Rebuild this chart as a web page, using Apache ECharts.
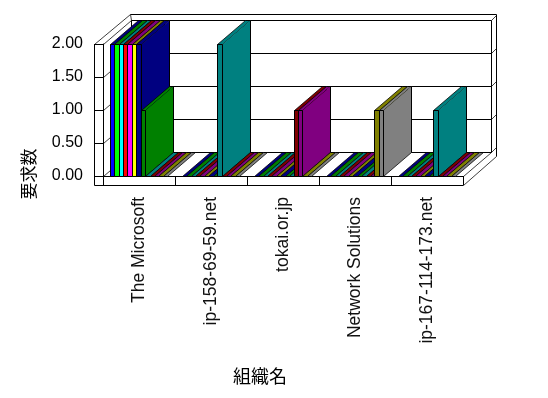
<!DOCTYPE html>
<html><head><meta charset="utf-8">
<style>html,body{margin:0;padding:0;background:#fff}#c{width:548px;height:398px}</style>
<script src="https://cdn.jsdelivr.net/npm/echarts@6/dist/echarts.min.js"></script>
</head><body><div id="c"></div>
<script>
const categories = ['The Microsoft','ip-158-69-59.net','tokai.or.jp','Network Solutions','ip-167-114-173.net'];
const yTicks = [0, 0.5, 1, 1.5, 2];
const s01 = [2,0,0,0,0];
const s02 = [2,0,0,0,0];
const s03 = [2,0,0,0,0];
const s04 = [2,0,0,0,0];
const s05 = [2,0,0,0,0];
const s06 = [2,0,0,0,0];
const s07 = [2,0,0,0,0];
const s08 = [1,0,0,0,0];
const s09 = [0,2,0,0,1];
const s10 = [0,0,1,0,0];
const s11 = [0,0,1,0,0];
const s12 = [0,0,0,1,0];
const s13 = [0,0,0,1,0];
const seriesValues = [s01,s02,s03,s04,s05,s06,s07,s08,s09,s10,s11,s12,s13];
const frontColors = ['#0000ff','#00ff00','#00ffff','#ff0000','#ff00ff','#ffff00','#000080','#008000','#008080','#800000','#800080','#808000','#808080'];
const darkColors  = ['#000080','#008000','#008080','#800000','#800080','#808000','#000080','#008000','#008080','#800000','#800080','#808000','#808080'];

const DX = 28, DY = 24, BAND = 0.8, SLAB_X = 5, SLAB_Y = 6, TK = 9;
const THIN = 0.75;
const black = '#000';
const snap = v => Math.floor(v) + 0.5;
const chart = echarts.init(document.getElementById('c'), null, {renderer:'canvas', devicePixelRatio:1});

const seg = (x1,y1,x2,y2,w)=>({type:'line',shape:{x1,y1,x2,y2},style:{stroke:black,lineWidth:w||1}});
const fillPoly = (points,fill)=>({type:'polygon',shape:{points},style:{fill,stroke:null}});

function renderBar(i){
  return function(params, api){
    const cat = api.value(0), val = api.value(1);
    const bw = api.size([1,0])[0];
    const w = bw*BAND/seriesValues.length;
    const c0 = api.coord([cat,0]);
    const cv = api.coord([cat,val]);
    const x0 = snap(c0[0]-bw*BAND/2+i*w), x1 = snap(c0[0]-bw*BAND/2+(i+1)*w);
    const yb = snap(c0[1]), yt = snap(cv[1]);
    const c = [];
    c.push(fillPoly([[x0,yt],[x1,yt],[x1+DX,yt-DY],[x0+DX,yt-DY]], darkColors[i]));
    c.push(seg(x0,yt,x0+DX,yt-DY,THIN), seg(x1,yt,x1+DX,yt-DY,THIN));
    c.push(seg(x0+DX,yt-DY,x1+DX,yt-DY), seg(x0,yt,x1,yt));
    if(val>0){
      c.push(fillPoly([[x1,yt],[x1+DX,yt-DY],[x1+DX,yb-DY],[x1,yb]], darkColors[i]));
      c.push(seg(x1+DX,yt-DY,x1+DX,yb-DY), seg(x1,yb,x1+DX,yb-DY,THIN));
      c.push({type:'rect', shape:{x:x0,y:yt,width:x1-x0,height:yb-yt}, style:{fill:frontColors[i],stroke:black,lineWidth:1}});
    }
    return {type:'group', children:c};
  };
}
function renderFrame(params, api){
  const a = api.coord([0,0]), bw = api.size([1,0])[0];
  const L = snap(a[0]-bw/2), R = snap(a[0]-bw/2+bw*categories.length), B = snap(a[1]);
  const T = snap(api.coord([0,yTicks[yTicks.length-1]])[1]);
  const c = [];
  yTicks.forEach(t=>{
    const y = snap(api.coord([0,t])[1]);
    c.push(seg(L+DX, y-DY, R+DX, y-DY));
    c.push(seg(L, y, L+DX, y-DY, THIN));
    c.push(seg(R+DX, y-DY, R+DX+SLAB_X, y-DY-SLAB_X, THIN));
  });
  c.push(seg(L+DX, T-DY, L+DX, B-DY));
  c.push(seg(R+DX, T-DY, R+DX, B-DY));
  c.push(seg(L, B, L, T));
  c.push(seg(R, B, R+DX, B-DY, THIN));
  c.push(seg(L-TK, T, L, T));
  c.push(seg(L-TK, T, L+DX-1, T-DY-SLAB_Y, THIN));
  c.push(seg(L+DX-1, T-DY-SLAB_Y, R+DX+SLAB_X, T-DY-SLAB_Y));
  c.push(seg(L+DX-1, T-DY-SLAB_Y, L+DX, T-DY, THIN));
  c.push(seg(R+DX+SLAB_X, T-DY-SLAB_Y, R+DX+SLAB_X, B-DY+4));
  c.push(seg(R+DX+SLAB_X, B-DY+4, R, B+TK, THIN));
  c.push(seg(L-TK, T, L-TK, B+TK));
  c.push(seg(L-TK, B+TK, R, B+TK));
  return {type:'group', children:c};
}

const series = [{type:'custom', z:2, silent:true, renderItem:renderFrame, data:[[0,0]], encode:{x:0,y:1}, clip:false}];
seriesValues.forEach((vals,i)=>{
  series.push({type:'custom', z:3+i, silent:true, clip:false, renderItem:renderBar(i), encode:{x:0,y:1},
    data: vals.map((v,k)=>[k,v])});
});

const LABEL_FONT = '"Liberation Sans", Arial, sans-serif';
const CJK_FONT = '"Noto Sans CJK JP", sans-serif';
chart.setOption({
  animation:false,
  backgroundColor:'#fff',
  grid:{left:103, right:85, top:44, bottom:222},
  xAxis:{type:'category', data:categories, boundaryGap:true,
    axisLine:{lineStyle:{color:black,width:1}},
    axisTick:{show:true, length:9, alignWithLabel:false, lineStyle:{color:black,width:1}},
    axisLabel:{rotate:90, margin:21, interval:0, fontFamily:LABEL_FONT, fontSize:17.5, color:'#111', padding:[3,0,0,0]}},
  yAxis:{type:'value', min:0, max:2, interval:0.5,
    splitLine:{show:false},
    axisLine:{show:true, lineStyle:{color:black,width:1}},
    axisTick:{show:true, length:9, lineStyle:{color:black,width:1}},
    axisLabel:{margin:20, fontFamily:LABEL_FONT, fontSize:16, color:black, formatter:v=>v.toFixed(2), padding:[2,0,0,0]}},
  graphic:[
    {type:'text', x:260, y:376, style:{text:'組織名', fontFamily:CJK_FONT, fontSize:18, fill:black, align:'center', verticalAlign:'middle'}},
    {type:'text', x:29, y:174, rotation:Math.PI/2, style:{text:'要求数', fontFamily:CJK_FONT, fontSize:17, fill:black, align:'center', verticalAlign:'middle'}}
  ],
  series
});
</script></body></html>
